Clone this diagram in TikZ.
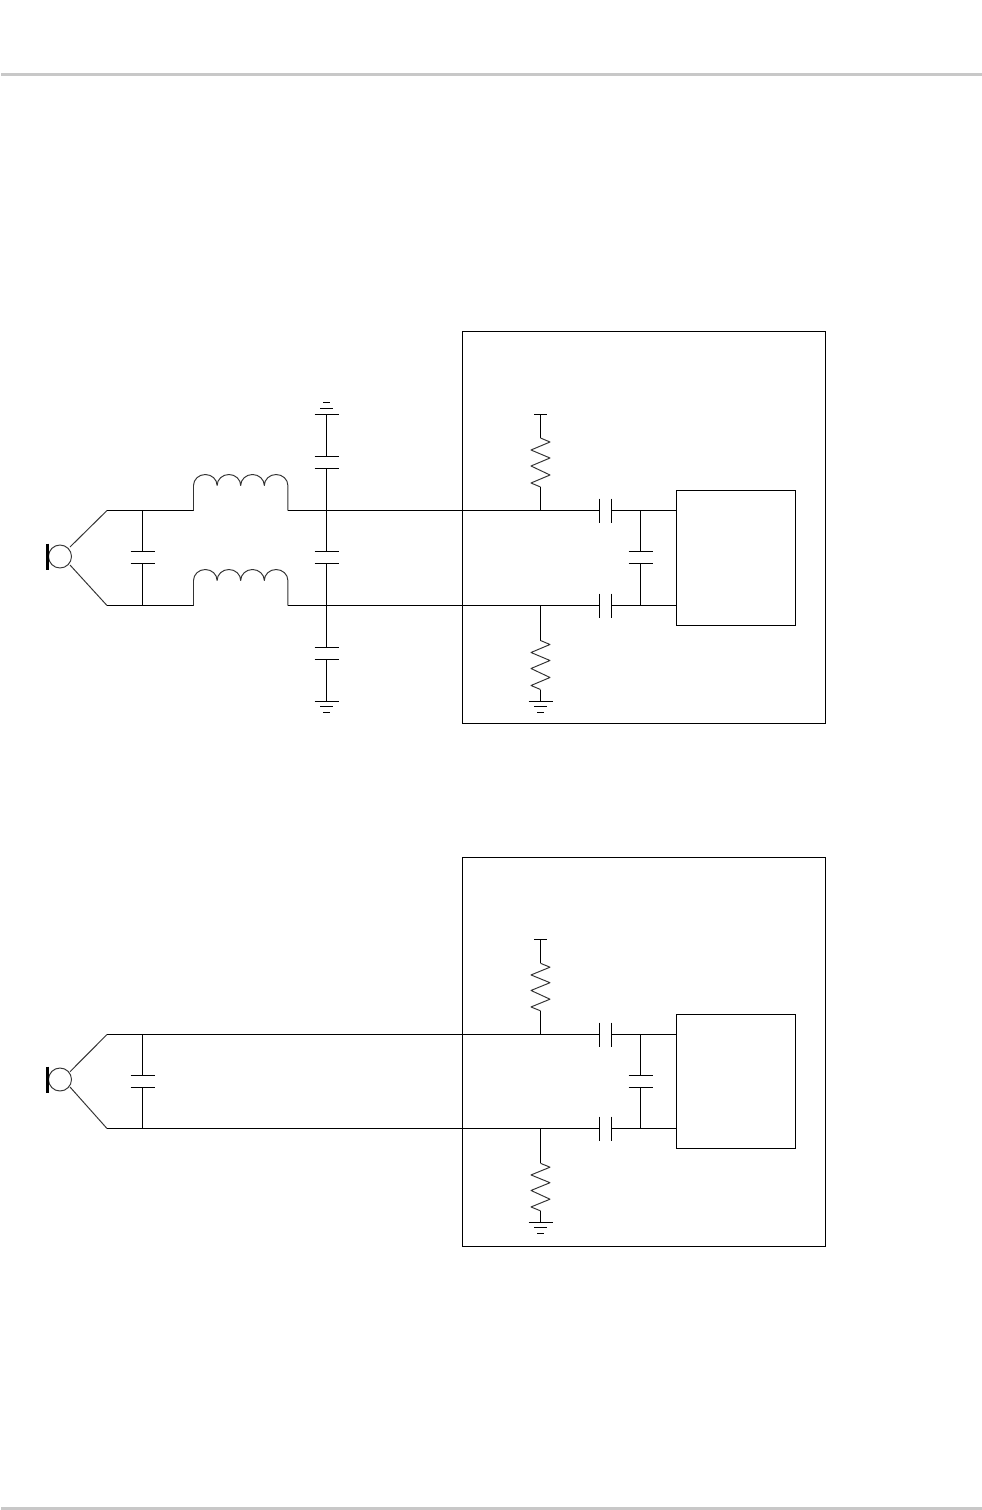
\documentclass[tikz,border=0pt]{standalone}
\usepackage{xcolor}
\usepackage{tikz}
\definecolor{rulegray}{HTML}{C8C8C8}
\tikzset{
  wire/.style={draw=black, line width=0.65pt, line cap=butt, line join=miter},
  thin wire/.style={draw=black!80, line width=0.55pt, line join=round},
  plate/.style={draw=black, line width=0.65pt},
  micbar/.style={draw=black, line width=1.8pt},
  pagerule/.style={draw=rulegray, line width=1.7pt},
  % shunt capacitor, origin midway between the plates
  vcap/.pic={
    \draw[plate] (-12,-6) -- (12,-6);
    \draw[plate] (-12,6) -- (12,6);
  },
  % series capacitor on a horizontal wire
  hcap/.pic={
    \draw[plate] (-6,-12) -- (-6,12);
    \draw[plate] (6,-12) -- (6,12);
  },
  % ground, origin at the long bar
  gnd/.pic={
    \draw[plate] (-12,0) -- (12,0);
    \draw[plate] (-6.5,5) -- (6.5,5);
    \draw[plate] (-3.5,11) -- (3.5,11);
  },
  % same, pointing up
  gndup/.pic={
    \draw[plate] (-12,0) -- (12,0);
    \draw[plate] (-6.5,-6) -- (6.5,-6);
    \draw[plate] (-3.5,-12) -- (3.5,-12);
  },
  % resistor, origin at its upper end
  res/.pic={
    \draw[thin wire] (0,0) -- (9.5,4) -- (-9.5,12) -- (9.5,20) -- (-9.5,28)
      -- (9.5,37) -- (-9.5,45) -- (0,49);
  },
  % coil between two legs, origin at the left foot
  coil/.pic={
    \draw[thin wire] (0,0) -- (0,-25)
      arc[start angle=180,end angle=360,x radius=11.8,y radius=11]
      arc[start angle=180,end angle=360,x radius=11.8,y radius=11]
      arc[start angle=180,end angle=360,x radius=11.8,y radius=11]
      arc[start angle=180,end angle=360,x radius=11.8,y radius=11]
      -- (94.4,0);
  },
  % microphone, origin at the capsule centre
  mic/.pic={
    \draw[thin wire] (0,0) circle (11.5);
    \draw[micbar] (-12.5,-13) -- (-12.5,13);
  },
}

\begin{document}
\begin{tikzpicture}[x=0.02cm,y=-0.02cm]
  \useasboundingbox (0,0) rectangle (982,1510);
  \fill[white] (0,0) rectangle (982,1510);
  \draw[pagerule] (1,74.5) -- (982,74.5);
  \draw[pagerule] (1,1508.5) -- (982,1508.5);

  % upper circuit
  \coordinate (hiA) at (107,510.5);
  \coordinate (loA) at (107,605.5);
  \coordinate (hiB) at (676.5,510.5);
  \coordinate (loB) at (676.5,605.5);
  \draw[wire] (462.5,331.5) rectangle (825.5,723.5);
  \draw[wire] (676.5,490.5) rectangle (795.5,625.5);
  \pic at (60,556.5) {mic};
  \draw[thin wire] (70,547) -- (hiA);
  \draw[thin wire] (70,565) -- (loA);
  \draw[wire] (hiA) -- (193.5,510.5);
  \draw[wire] (loA) -- (193.5,605.5);
  \pic at (193.5,510.5) {coil};
  \pic at (193.5,605.5) {coil};
  \draw[wire] (287.9,510.5) -- (599.5,510.5);
  \draw[wire] (287.9,605.5) -- (599.5,605.5);
  \draw[wire] (611.5,510.5) -- (hiB);
  \draw[wire] (611.5,605.5) -- (loB);
  \pic at (605.5,510.5) {hcap};
  \pic at (605.5,605.5) {hcap};
  % shunt branches
  \foreach \cx in {142.5,326.5,640.5}{
    \draw[wire] (\cx,510.5) -- (\cx,551.5);
    \draw[wire] (\cx,563.5) -- (\cx,605.5);
    \pic at (\cx,557.5) {vcap};
  }
  % filter legs to ground
  \pic at (326.5,414.5) {gndup};
  \draw[wire] (326.5,414.5) -- (326.5,456.5);
  \pic at (326.5,462.5) {vcap};
  \draw[wire] (326.5,468.5) -- (326.5,510.5);
  \draw[wire] (326.5,605.5) -- (326.5,647.5);
  \pic at (326.5,653.5) {vcap};
  \draw[wire] (326.5,659.5) -- (326.5,701.5);
  \pic at (326.5,701.5) {gnd};
  % bias resistors
  \draw[plate] (534,414.5) -- (547,414.5);
  \draw[wire] (540.5,414.5) -- (540.5,438);
  \pic at (540.5,438) {res};
  \draw[wire] (540.5,487) -- (540.5,510.5);
  \draw[wire] (540.5,605.5) -- (540.5,640.5);
  \pic at (540.5,640.5) {res};
  \draw[wire] (540.5,689.5) -- (540.5,701.5);
  \pic at (540.5,701.5) {gnd};

  % lower circuit
  \coordinate (hiC) at (107,1034.5);
  \coordinate (loC) at (107,1128.5);
  \coordinate (hiD) at (676.5,1034.5);
  \coordinate (loD) at (676.5,1128.5);
  \draw[wire] (462.5,857.5) rectangle (825.5,1246.5);
  \draw[wire] (676.5,1014.5) rectangle (795.5,1148.5);
  \pic at (60,1079.5) {mic};
  \draw[thin wire] (70,1071.7) -- (hiC);
  \draw[thin wire] (70,1087) -- (loC);
  \draw[wire] (hiC) -- (599.5,1034.5);
  \draw[wire] (loC) -- (599.5,1128.5);
  \draw[wire] (611.5,1034.5) -- (hiD);
  \draw[wire] (611.5,1128.5) -- (loD);
  \pic at (605.5,1034.5) {hcap};
  \pic at (605.5,1128.5) {hcap};
  \foreach \cx in {142.5,640.5}{
    \draw[wire] (\cx,1034.5) -- (\cx,1075.5);
    \draw[wire] (\cx,1087.5) -- (\cx,1128.5);
    \pic at (\cx,1081.5) {vcap};
  }
  \draw[plate] (534,939.5) -- (547,939.5);
  \draw[wire] (540.5,939.5) -- (540.5,963.3);
  \pic[yscale=0.97] at (540.5,963.3) {res};
  \draw[wire] (540.5,1010.8) -- (540.5,1034.5);
  \draw[wire] (540.5,1128.5) -- (540.5,1163.3);
  \pic[yscale=0.97] at (540.5,1163.3) {res};
  \draw[wire] (540.5,1210.8) -- (540.5,1222.5);
  \pic at (540.5,1222.5) {gnd};
\end{tikzpicture}
\end{document}
